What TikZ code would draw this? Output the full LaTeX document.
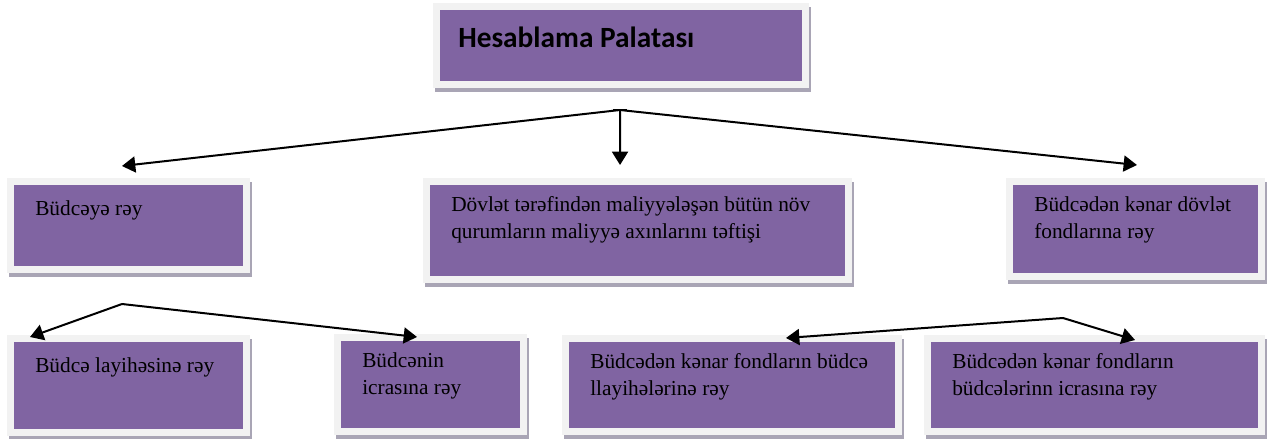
\documentclass[tikz,border=0pt]{standalone}
\usepackage{fontspec}
\setmainfont{Liberation Serif}
\newfontfamily\headfont{Carlito}
\usetikzlibrary{arrows.meta,positioning}

\definecolor{boxpurple}{HTML}{8064A2}
\definecolor{framegray}{HTML}{F2F2F2}
\definecolor{shadowgray}{HTML}{A9A5B5}

\begin{document}
\begin{tikzpicture}[x=0.75pt,y=-0.75pt,
    box/.style={fill=boxpurple, draw=framegray, line width=5.25pt, inner sep=0pt,
      preaction={draw=shadowgray, transform canvas={xshift=1.5pt,yshift=-3pt}}},
    boxtext/.style={anchor=north west, align=left, inner sep=0pt, xshift=21pt, yshift=-13.75pt,
      font=\fontsize{16}{20.5}\selectfont, execute at begin node=\strut},
    headtext/.style={anchor=north west, inner sep=0pt, xshift=18.75pt, yshift=-14.1pt,
      font=\headfont\bfseries\fontsize{22}{27}\selectfont, execute at begin node=\strut},
    link/.style={line width=1.5pt, -{Triangle[length=10pt,width=12pt]}}]
  \useasboundingbox (0,0) rectangle (1271,439);

  \node[box, minimum width=276.75pt, minimum height=58.5pt,
    label={[headtext]north west:Hesablama Palatası}] (palata) at (621,45.5) {};

  \node[box, minimum width=177pt, minimum height=66pt,
    label={[boxtext]north west:Büdcəyə rəy}] (budce) at (128.5,225.5) {};
  \node[box, minimum width=316.5pt, minimum height=73.5pt,
    label={[boxtext]north west:Dövlət tərəfindən maliyyələşən bütün növ\\qurumların maliyyə axınlarını təftişi}] (teftis) at (637.5,230.5) {};
  \node[box, minimum width=189pt, minimum height=71.25pt,
    label={[boxtext]north west:Büdcədən kənar dövlət\\fondlarına rəy}] (fondlar) at (1135.5,229) {};

  \node[box, minimum width=177pt, minimum height=70.5pt,
    label={[boxtext]north west:Büdcə layihəsinə rəy}] (layihe) at (128.5,385.5) {};
  \node[box, minimum width=139.5pt, minimum height=70.5pt,
    label={[boxtext]north west:Büdcənin\\icrasına rəy}] (icra) at (430.5,384.5) {};
  \node[box, minimum width=249.75pt, minimum height=69.75pt,
    label={[boxtext]north west:Büdcədən kənar fondların büdcə\\llayihələrinə rəy}] (fondlayihe) at (732,385) {};
  \node[box, minimum width=250.5pt, minimum height=69.75pt,
    label={[boxtext]north west:Büdcədən kənar fondların\\büdcələrinn icrasına rəy}] (fondicra) at (1094.5,385) {};

  \coordinate (hub) at (620,110);
  \coordinate (fork) at (122,304);
  \coordinate (fondfork) at (1063,318);

  \draw[line width=1.5pt] ([xshift=-5.6pt]hub) -- ([xshift=5.6pt]hub);
  \draw[link] (hub) -- ([xshift=-4.9pt,yshift=9pt]budce.north);
  \draw[link] (hub) -- ([xshift=-13.1pt,yshift=9.75pt]teftis.north);
  \draw[link] (hub) -- ([xshift=1.1pt,yshift=9.75pt]fondlar.north);

  \draw[link] (fork) -- ([xshift=17.25pt,yshift=-1.5pt]layihe.north west);
  \draw[link] (fork) -- ([xshift=-10.1pt,yshift=-2.25pt]icra.north);
  \draw[link] (fondfork) -- ([xshift=40.5pt,yshift=-2.25pt]fondlayihe.north);
  \draw[link] (fondfork) -- ([xshift=30.4pt,yshift=-3.75pt]fondicra.north);
\end{tikzpicture}
\end{document}
